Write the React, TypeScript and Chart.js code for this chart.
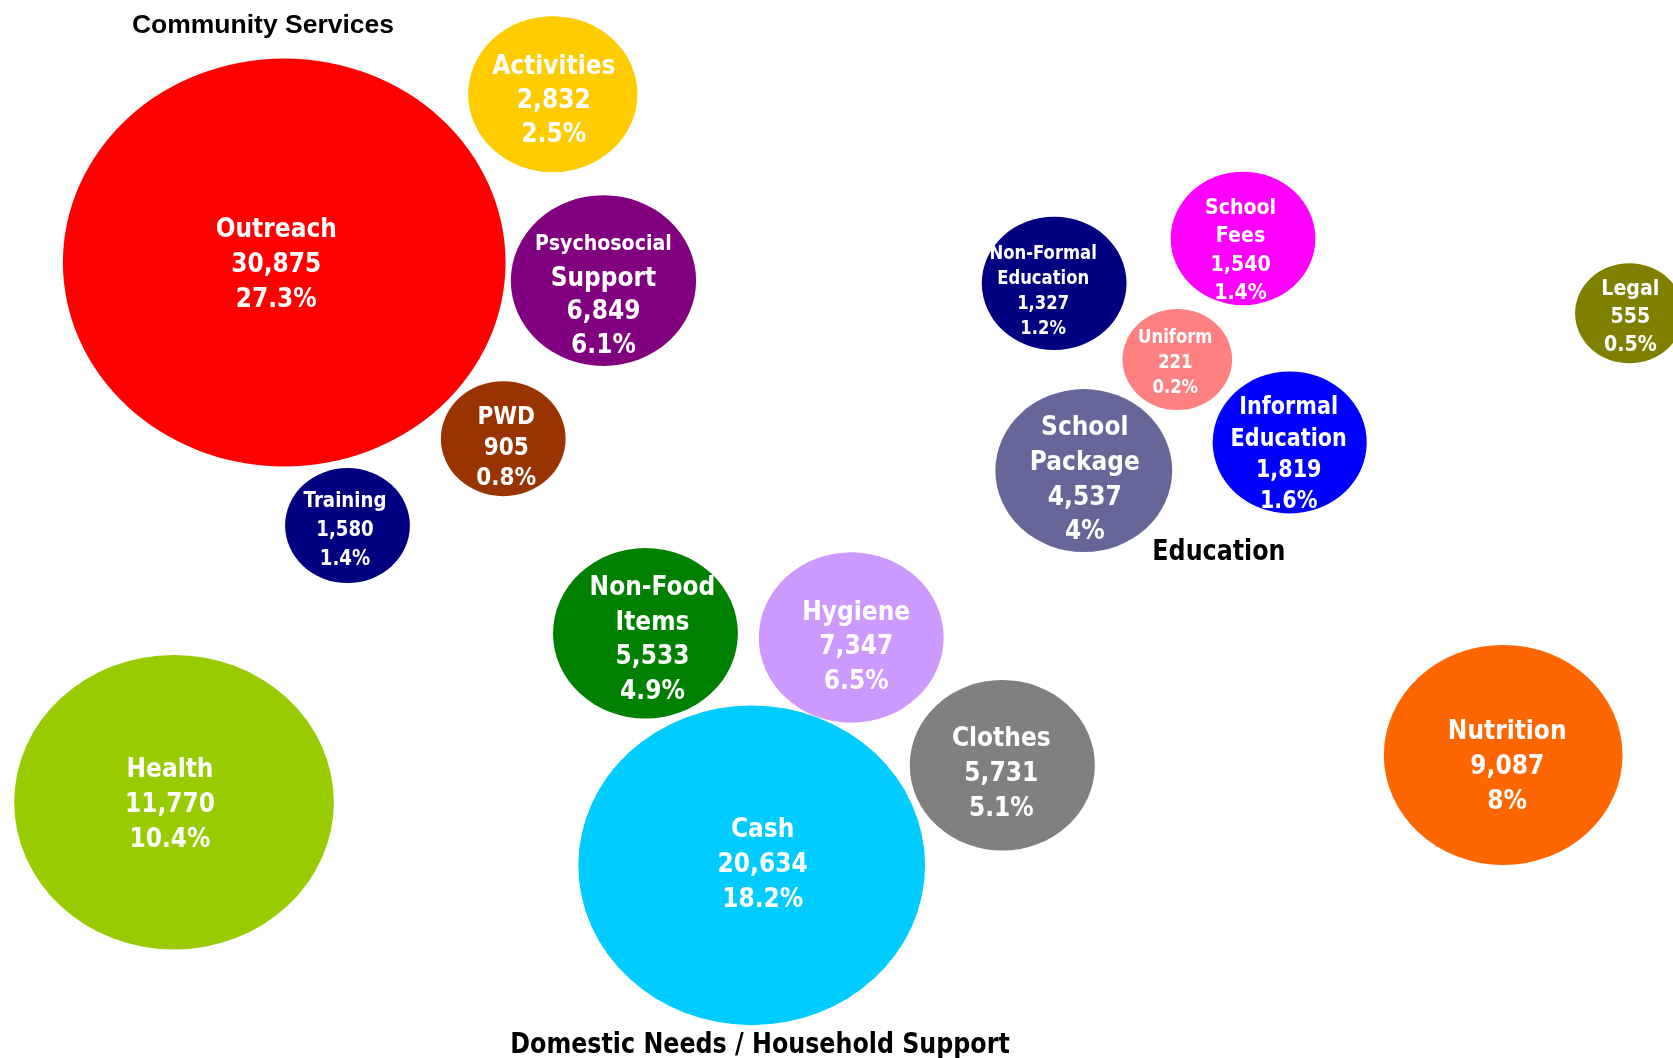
import React, { useEffect, useRef } from "react";
import { Chart, registerables } from "chart.js";

Chart.register(...registerables);

// ---------- data ----------
const categories = [
  "Outreach",
  "Activities",
  "Psychosocial\nSupport",
  "PWD",
  "Training",
  "Non-Food\nItems",
  "Hygiene",
  "Clothes",
  "Cash",
  "Health",
  "Nutrition",
  "Non-Formal\nEducation",
  "School\nFees",
  "Uniform",
  "Informal\nEducation",
  "School\nPackage",
  "Legal",
];
const values = [30875, 2832, 6849, 905, 1580, 5533, 7347, 5731, 20634, 11770, 9087, 1327, 1540, 221, 1819, 4537, 555];
// bubble positions (arbitrary 0-100 units) and bubble sizes (radius)
const xValues = [16.99, 33.04, 36.07, 30.08, 20.77, 38.58, 50.88, 59.91, 44.93, 10.4, 89.85, 63.01, 74.3, 70.37, 77.09, 64.78, 97.39];
const yValues = [75.19, 91.1, 73.48, 58.54, 50.33, 40.14, 39.74, 27.67, 18.21, 24.18, 28.64, 73.22, 77.46, 66.02, 58.18, 55.52, 70.39];
const bubbleSizes = [204, 78, 85.4, 57.5, 57.5, 85.2, 85.2, 85.3, 159.8, 147.3, 110, 66.7, 66.7, 50.5, 71, 81.5, 50];
const colors = [
  "#FF0000", "#FFCC00", "#800080", "#993300", "#000080", "#008000", "#CC99FF", "#808080",
  "#00CCFF", "#99CC00", "#FF6600", "#000080", "#FF00FF", "#FF8080", "#0000FF", "#666699", "#808000",
];
const groupNames = ["Community Services", "Education", "Domestic Needs / Household Support"];
const groupX = [15.72, 72.86, 45.43];
const groupY = [96.88, 47.07, 0.47];

// ---------- label styling ----------
const labelSize = [27, 27, 27, 25, 21, 27, 27, 27, 27, 27, 27, 19, 22, 19, 24, 27, 22];
const firstLineSize = [27, 27, 22, 25, 21, 27, 27, 27, 27, 27, 27, 19, 22, 19, 24, 27, 22];
const lineGap = [35, 34.4, 33.5, 30.3, 28.7, 34.5, 34.4, 34.7, 35, 34.8, 35.2, 25, 28.4, 25, 31.4, 34.7, 27.9];
const labelDx = [-8, 1, 0, 3, -2.5, 7, 5, -1, 11, -4, 4, -11, -2.5, -2, -1, 1, 1];
const labelDy = [0, 4, 12, 7, 3, 4, 7, 6, -3, 0, 9, 6, 10, 1.5, 10, 7, 2];
const groupFont = ["Liberation Sans", "DejaVu Sans", "DejaVu Sans"];
const groupSize = [26.5, 27.5, 27.5];
const groupSqueeze = [1, 0.865, 0.865];

const STRETCH_X = 1.085;
const SQUEEZE = 0.865;

const total = values.reduce((a, b) => a + b, 0);
const fmtPct = (v: number) => {
  const s = ((v / total) * 100).toFixed(1);
  return (s.endsWith(".0") ? s.slice(0, -2) : s) + "%";
};

function drawText(ctx: CanvasRenderingContext2D, text: string, x: number, y: number, size: number, family: string, color: string, squeeze: number) {
  ctx.save();
  ctx.translate(x, y);
  ctx.scale(squeeze, 1);
  ctx.font = `bold ${size}px "${family}"`;
  ctx.textAlign = "center";
  ctx.textBaseline = "alphabetic";
  ctx.fillStyle = color;
  ctx.fillText(text, 0, 0);
  ctx.restore();
}

const ellipsePlugin = {
  id: "ellipseBubbles",
  beforeDatasetDraw(chart: any, args: any) {
    const ctx: CanvasRenderingContext2D = chart.ctx;
    args.meta.data.forEach((el: any) => {
      const r = el.options.radius;
      ctx.save();
      ctx.beginPath();
      ctx.ellipse(el.x, el.y, r * STRETCH_X, r, 0, 0, Math.PI * 2);
      ctx.fillStyle = el.options.backgroundColor;
      ctx.fill();
      ctx.restore();
    });
    return false;
  },
  afterDatasetsDraw(chart: any) {
    const ctx: CanvasRenderingContext2D = chart.ctx;
    const meta = chart.getDatasetMeta(0);
    meta.data.forEach((el: any, i: number) => {
      const lines = [...categories[i].split("\n"), values[i].toLocaleString("en-US"), fmtPct(values[i])];
      const n = lines.length;
      const cy = el.y + labelDy[i];
      const cx = el.x + labelDx[i];
      lines.forEach((t, k) => {
        const size = k === 0 ? firstLineSize[i] : labelSize[i];
        const mid = cy + (k - (n - 1) / 2) * lineGap[i];
        drawText(ctx, t, cx, mid + (0.729 * size) / 2, size, "DejaVu Sans", "#FFFFFF", SQUEEZE);
      });
    });
    const xs = chart.scales.x;
    const ys = chart.scales.y;
    groupNames.forEach((g, i) => {
      drawText(ctx, g, xs.getPixelForValue(groupX[i]), ys.getPixelForValue(groupY[i]), groupSize[i], groupFont[i], "#000000", groupSqueeze[i]);
    });
  },
};

export default function App() {
  const ref = useRef<HTMLCanvasElement | null>(null);
  useEffect(() => {
    if (!ref.current) return;
    const chart = new Chart(ref.current, {
      type: "bubble",
      data: {
        datasets: [
          {
            label: "Services",
            data: values.map((v, i) => ({ x: xValues[i], y: yValues[i], r: bubbleSizes[i] })),
            backgroundColor: colors,
            borderWidth: 0,
            clip: false,
          },
        ],
      },
      options: {
        responsive: false,
        animation: false,
        events: [],
        layout: { padding: 0, autoPadding: false },
        scales: {
          x: { type: "linear", min: 0, max: 100, display: false },
          y: { type: "linear", min: 0, max: 100, display: false },
        },
        plugins: {
          legend: { display: false },
          tooltip: { enabled: false },
        },
      },
      plugins: [ellipsePlugin],
    });
    return () => chart.destroy();
  }, []);
  return (
    <div style={{ position: "fixed", left: 0, top: 0, width: 1673, height: 1058, background: "#fff" }}>
      <canvas ref={ref} width={1673} height={1058} style={{ display: "block", width: 1673, height: 1058 }} />
    </div>
  );
}
